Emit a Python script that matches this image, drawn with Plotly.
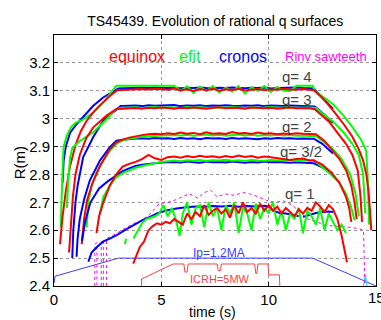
import plotly.graph_objects as go

# ---------------- data ----------------
# shared plateau time samples (s)
PT = [3.2, 3.5, 3.8, 4.1, 4.4, 4.7, 5.0, 5.3, 5.6, 5.9, 6.2, 6.5, 6.8, 7.1, 7.4,
      7.7, 8.0, 8.3, 8.6, 8.9, 9.2, 9.5, 9.8, 10.1, 10.4, 10.7, 11.0, 11.3, 11.6, 11.9]

# ---- q = 4 ----
q4_eq_up_t = [0.28, 0.4, 0.55, 0.75, 1.0, 1.25, 1.5, 1.8, 2.1, 2.4, 2.7, 2.95]
q4_eq_up_R = [2.55, 2.65, 2.74, 2.83, 2.905, 2.955, 2.99, 3.02, 3.045, 3.068, 3.088, 3.102]
q4_eq_pl_R = [3.103, 3.105, 3.104, 3.106, 3.105, 3.107, 3.106, 3.104, 3.108, 3.101, 3.105, 3.099, 3.106, 3.102, 3.107,
              3.1, 3.105, 3.103, 3.107, 3.101, 3.104, 3.106, 3.102, 3.105, 3.104, 3.107, 3.105, 3.104, 3.106, 3.105]
q4_eq_dn_t = [12.1, 12.5, 13.0, 13.5, 13.9, 14.2, 14.4, 14.55, 14.65, 14.72, 14.78]
q4_eq_dn_R = [3.102, 3.075, 3.03, 2.98, 2.935, 2.89, 2.85, 2.8, 2.74, 2.67, 2.6]

q4_ef_up_t = [0.31, 0.34, 0.37, 0.42, 0.45, 0.6, 0.8, 1.0, 1.3, 1.75, 2.3, 2.75, 2.9]
q4_ef_up_R = [2.61, 2.7, 2.78, 2.86, 2.9, 2.94, 2.97, 2.985, 2.995, 3.017, 3.058, 3.1, 3.118]
q4_ef_pl_R = [3.118, 3.118, 3.118, 3.118, 3.118, 3.118, 3.118, 3.118, 3.118, 3.1, 3.116, 3.093, 3.115, 3.099, 3.117,
              3.094, 3.112, 3.097, 3.117, 3.09, 3.113, 3.1, 3.117, 3.096, 3.114, 3.1, 3.099, 3.118, 3.118, 3.118]
q4_ef_dn_t = [12.05, 12.15, 12.6, 13.0, 13.5, 13.9, 14.3, 14.54, 14.62, 14.68]
q4_ef_dn_R = [3.118, 3.1, 3.075, 3.052, 3.01, 2.97, 2.925, 2.886, 2.78, 2.62]

q4_cr_up_t = [0.4, 0.45, 0.55, 0.75, 1.05, 1.36, 1.83, 2.29, 2.84, 3.0]
q4_cr_up_R = [2.77, 2.85, 2.9, 2.95, 2.98, 3.005, 3.046, 3.076, 3.102, 3.108]
q4_cr_pl_R = [3.109, 3.11, 3.11, 3.111, 3.11, 3.112, 3.11, 3.111, 3.11, 3.109, 3.111, 3.11, 3.112, 3.11, 3.109,
              3.111, 3.11, 3.112, 3.11, 3.109, 3.111, 3.11, 3.112, 3.108, 3.11, 3.111, 3.11, 3.112, 3.11, 3.109]
q4_cr_dn_t = [12.1, 12.5, 13.0]
q4_cr_dn_R = [3.108, 3.075, 3.035]

# ---- q = 3 ----
q3_eq_up_t = [0.7, 0.78, 0.88, 1.0, 1.2, 1.5, 1.83, 2.45, 2.91]
q3_eq_up_R = [2.52, 2.62, 2.72, 2.8, 2.87, 2.93, 2.969, 3.011, 3.035]
q3_eq_pl_R = [3.036, 3.037, 3.038, 3.036, 3.039, 3.037, 3.04, 3.038, 3.036, 3.039, 3.037, 3.04, 3.038, 3.036, 3.039,
              3.041, 3.037, 3.039, 3.038, 3.036, 3.04, 3.038, 3.037, 3.039, 3.036, 3.038, 3.04, 3.037, 3.038, 3.037]
q3_eq_dn_t = [12.15, 12.5, 12.84, 13.2, 13.61, 13.9, 14.15, 14.28, 14.35]
q3_eq_dn_R = [3.034, 3.01, 2.987, 2.95, 2.909, 2.87, 2.814, 2.72, 2.63]

q3_ef_up_t = [0.6, 0.66, 0.75, 0.85, 1.2, 1.8, 2.35, 2.9]
q3_ef_up_R = [2.68, 2.78, 2.86, 2.895, 2.92, 2.95, 2.99, 3.035]
q3_ef_pl_R = [3.04, 3.039, 3.041, 3.038, 3.04, 3.042, 3.039, 3.041, 3.04, 3.038, 3.042, 3.039, 3.041, 3.04, 3.038,
              3.041, 3.039, 3.042, 3.04, 3.038, 3.041, 3.039, 3.04, 3.042, 3.039, 3.04, 3.041, 3.039, 3.04, 3.04]
q3_ef_dn_t = [12.2, 12.6, 13.0, 13.5, 13.9, 14.2, 14.4, 14.5]
q3_ef_dn_R = [3.038, 3.012, 2.99, 2.95, 2.91, 2.87, 2.8, 2.66]

q3_cr_up_t = [0.85, 0.9, 1.0, 1.1, 1.36, 1.83, 2.29, 2.91, 3.1]
q3_cr_up_R = [2.5, 2.6, 2.7, 2.76, 2.862, 2.934, 2.993, 3.035, 3.045]
q3_cr_pl_R = [3.045, 3.046, 3.047, 3.045, 3.048, 3.046, 3.047, 3.046, 3.049, 3.045, 3.047, 3.046, 3.048, 3.045, 3.047,
              3.046, 3.048, 3.046, 3.045, 3.047, 3.046, 3.048, 3.045, 3.047, 3.046, 3.045, 3.047, 3.046, 3.045, 3.044]
q3_cr_dn_t = [12.15, 12.5, 13.0]
q3_cr_dn_R = [3.044, 3.02, 2.985]

# ---- q = 2 ----
q2_eq_up_t = [1.29, 1.4, 1.55, 1.8, 2.14, 2.6, 2.91]
q2_eq_up_R = [2.55, 2.64, 2.71, 2.77, 2.83, 2.89, 2.915]
q2_eq_pl_R = [2.925, 2.932, 2.937, 2.941, 2.944, 2.946, 2.944, 2.948, 2.945, 2.95, 2.946, 2.949, 2.944, 2.951, 2.946,
              2.948, 2.945, 2.952, 2.947, 2.949, 2.945, 2.95, 2.946, 2.948, 2.944, 2.947, 2.945, 2.948, 2.946, 2.944]
q2_eq_dn_t = [12.2, 12.6, 13.0, 13.3, 13.61, 13.85, 14.0, 14.1]
q2_eq_dn_R = [2.944, 2.92, 2.885, 2.855, 2.814, 2.76, 2.7, 2.64]

q2_ef_up_t = [1.52, 1.6, 1.75, 2.0, 2.3, 2.6, 2.9]
q2_ef_up_R = [2.61, 2.7, 2.76, 2.81, 2.85, 2.885, 2.91]
q2_ef_pl_R = [2.922, 2.928, 2.932, 2.935, 2.937, 2.938, 2.94, 2.939, 2.941, 2.94, 2.942, 2.939, 2.941, 2.943, 2.94,
              2.942, 2.939, 2.941, 2.943, 2.94, 2.942, 2.939, 2.941, 2.94, 2.942, 2.94, 2.941, 2.939, 2.94, 2.938]
q2_ef_dn_t = [12.2, 12.6, 13.0, 13.4, 13.8, 14.05, 14.2]
q2_ef_dn_R = [2.938, 2.915, 2.89, 2.855, 2.8, 2.73, 2.65]

q2_cr_up_t = [1.05, 1.1, 1.2, 1.4, 1.67, 2.14, 2.6, 2.91]
q2_cr_up_R = [2.505, 2.57, 2.64, 2.71, 2.779, 2.85, 2.898, 2.921]
q2_cr_pl_R = [2.924, 2.927, 2.929, 2.93, 2.928, 2.931, 2.929, 2.93, 2.927, 2.931, 2.928, 2.93, 2.926, 2.931, 2.929,
              2.93, 2.927, 2.931, 2.928, 2.93, 2.929, 2.926, 2.93, 2.928, 2.931, 2.929, 2.93, 2.928, 2.929, 2.927]
q2_cr_dn_t = [12.1, 12.5, 13.0]
q2_cr_dn_R = [2.928, 2.91, 2.875]

# ---- q = 3/2 ----
q32_eq_up_t = [1.98, 2.1, 2.3, 2.6, 2.9]
q32_eq_up_R = [2.59, 2.65, 2.7, 2.76, 2.8]
q32_eq_pl_R = [2.828, 2.838, 2.845, 2.855, 2.87, 2.858, 2.852, 2.862, 2.864, 2.86, 2.866, 2.862, 2.867, 2.863, 2.865,
               2.861, 2.866, 2.862, 2.868, 2.863, 2.866, 2.86, 2.864, 2.862, 2.858, 2.855, 2.852, 2.855, 2.857, 2.85]
q32_eq_dn_t = [12.1, 12.5, 12.9, 13.3, 13.6, 13.75, 13.85]
q32_eq_dn_R = [2.85, 2.835, 2.808, 2.77, 2.72, 2.68, 2.63]

q32_ef_up_t = [2.14, 2.3, 2.6, 2.9]
q32_ef_up_R = [2.66, 2.72, 2.76, 2.79]
q32_ef_pl_R = [2.805, 2.815, 2.824, 2.83, 2.836, 2.84, 2.845, 2.848, 2.85, 2.847, 2.851, 2.849, 2.852, 2.848, 2.851,
               2.85, 2.853, 2.849, 2.851, 2.848, 2.852, 2.85, 2.849, 2.852, 2.85, 2.853, 2.851, 2.849, 2.852, 2.85]
q32_ef_dn_t = [12.1, 12.5, 12.9, 13.3, 13.6, 13.85, 14.0]
q32_ef_dn_R = [2.852, 2.826, 2.8, 2.77, 2.731, 2.68, 2.636]

q32_cr_up_t = [1.3, 1.45, 1.7, 2.1, 2.5, 2.9]
q32_cr_up_R = [2.56, 2.63, 2.7, 2.75, 2.775, 2.795]
q32_cr_pl_R = [2.812, 2.822, 2.83, 2.835, 2.838, 2.841, 2.843, 2.844, 2.845, 2.843, 2.846, 2.844, 2.842, 2.846, 2.844,
               2.845, 2.843, 2.846, 2.844, 2.842, 2.845, 2.843, 2.846, 2.844, 2.845, 2.843, 2.842, 2.844, 2.842, 2.84]
q32_cr_dn_t = [12.1, 12.5, 13.0]
q32_cr_dn_R = [2.84, 2.825, 2.802]

# ---- q = 1 ----
q1_eq_t = [3.69, 3.8, 4.0, 4.2, 4.4, 4.6, 4.8, 5.0, 5.2, 5.4, 5.6, 5.8, 6.0, 6.2, 6.4, 6.6, 6.8, 7.0, 7.2, 7.4,
           7.6, 7.8, 8.0, 8.2, 8.4, 8.6, 8.8, 9.0, 9.2, 9.4, 9.6, 9.8, 10.0, 10.2, 10.4, 10.6, 10.8, 11.0, 11.2,
           11.4, 11.6, 11.8, 12.0, 12.2, 12.4, 12.6, 12.8, 13.0, 13.2, 13.4, 13.55, 13.65]
q1_eq_R = [2.48, 2.5, 2.54, 2.56, 2.6, 2.615, 2.625, 2.62, 2.63, 2.625, 2.64, 2.63, 2.62, 2.66, 2.64, 2.665, 2.65,
           2.69, 2.655, 2.67, 2.68, 2.66, 2.675, 2.645, 2.69, 2.66, 2.7, 2.665, 2.68, 2.66, 2.695, 2.67, 2.69, 2.67,
           2.685, 2.66, 2.68, 2.665, 2.65, 2.675, 2.66, 2.68, 2.67, 2.7, 2.685, 2.665, 2.69, 2.675, 2.64, 2.58,
           2.52, 2.485]

q1_ef_t = [3.3, 3.36, None, 3.7, 3.9, 4.1, 4.3, 4.5, 4.7, 4.9, 5.1, 5.3, 5.5, 5.7, 5.85, 6.0, 6.2, 6.4, 6.6, 6.8,
           7.0, 7.2, 7.4, 7.6, 7.8, 8.0, 8.2, 8.4, 8.6, 8.8, 9.0, 9.2, 9.4, 9.6, 9.8, 10.0, 10.2, 10.4, 10.6, 10.8,
           11.0, 11.2, 11.4, 11.6, 11.8, 12.0, 12.2, 12.4, 12.6, 12.8, 13.0, 13.2, 13.4, 13.6]
q1_ef_R = [2.55, 2.57, None, 2.57, 2.6, 2.625, 2.64, 2.645, 2.65, 2.66, 2.69, 2.65, 2.68, 2.63, 2.58, 2.66, 2.7,
           2.62, 2.68, 2.69, 2.61, 2.7, 2.65, 2.68, 2.6, 2.69, 2.66, 2.7, 2.59, 2.68, 2.66, 2.6, 2.695, 2.64, 2.68,
           2.66, 2.7, 2.62, 2.67, 2.6, 2.66, 2.64, 2.68, 2.59, 2.67, 2.65, 2.62, 2.68, 2.6, 2.66, 2.63, 2.6, 2.62,
           2.59]

q1_cr_t = [1.6, 1.75, 2.0, 2.3, 2.6, 2.92, 3.3, 3.69, 4.1, 4.47, 4.8, 5.24, 5.7, 6.17, 6.6, 7.0, 7.4, 7.8, 8.2,
           8.6, 9.0, 9.4, 9.8, 10.0, 10.2, 10.5, 10.8, 11.13, 11.4, None, 11.6, 11.9, 12.2, 12.5, 12.8, 13.0]
q1_cr_R = [2.487, 2.52, 2.54, 2.56, 2.57, 2.582, 2.6, 2.618, 2.635, 2.648, 2.66, 2.671, 2.678, 2.682, 2.685, 2.684,
           2.687, 2.685, 2.688, 2.684, 2.687, 2.685, 2.688, 2.685, 2.671, 2.662, 2.66, 2.655, 2.65, None, 2.648,
           2.655, 2.662, 2.665, 2.667, 2.665]

# ---- inversion radius from sawteeth ----
rinv_t = [1.9, 1.9, 2.0, 2.0, None, 2.2, 2.2, 2.3, 2.3, None, 2.45, 2.45, 2.9, 3.3, 3.7, 4.0, 4.5, 4.9, 5.3, 5.6,
          6.0, 6.3, 6.7, 7.0, 7.3, 7.6, 8.0, 8.4, 8.8, 9.1, 9.5, 9.9, 10.3, 10.7, 11.1, 11.5, 11.8, 12.2, 12.6,
          13.0, 13.6, 14.2, 14.42, 14.45, 14.48]
rinv_R = [2.4, 2.55, 2.555, 2.4, None, 2.4, 2.56, 2.565, 2.4, None, 2.4, 2.57, 2.588, 2.605, 2.624, 2.63, 2.66,
          2.695, 2.7, 2.707, 2.72, 2.731, 2.715, 2.735, 2.743, 2.72, 2.73, 2.725, 2.735, 2.731, 2.72, 2.707, 2.7,
          2.705, 2.69, 2.66, 2.641, 2.63, 2.62, 2.615, 2.612, 2.606, 2.6, 2.5, 2.4]

# plasma current (scaled onto R axis) and ICRH power (scaled)
ip_t = [0.0, 0.05, 3.0, 12.05, 15.0]
ip_R = [2.41, 2.435, 2.5, 2.5, 2.4]
icrh_t = [4.08, 4.08, 5.55, 6.05, 6.1, 6.2, 6.25, 7.6, 7.65, 7.75, 7.8, 9.35, 9.4, 9.45, 9.5, 9.97, 10.0, 10.5, 10.52]
icrh_R = [2.4, 2.425, 2.479, 2.479, 2.45, 2.45, 2.479, 2.479, 2.455, 2.455, 2.479, 2.479, 2.445, 2.445, 2.479,
          2.479, 2.44, 2.44, 2.4]
cyan_t = [14.42, 14.46, 14.49, 14.52, 14.55, 14.58]
cyan_R = [2.4, 2.43, 2.41, 2.435, 2.415, 2.4]

# labels
q_labels = ["q= 4", "q= 3", "q= 2", "q= 3/2", "q= 1"]
q_label_t = [11.3, 11.3, 11.3, 11.5, 11.45]
q_label_R = [3.152, 3.067, 2.972, 2.882, 2.73]
code_names = ["equinox", "efit", "cronos", "Rinv sawteeth"]
code_t = [3.85, 6.35, 8.8, 12.65]
code_R = [3.222, 3.222, 3.222, 3.222]

y_ticks = [2.4, 2.5, 2.6, 2.7, 2.8, 2.9, 3.0, 3.1, 3.2]
y_tick_text = ["2.4", "2.5", "2.6", "2.7", "2.8", "2.9", "3", "3.1", "3.2"]
x_ticks = [0, 5, 10, 15]

RED, GREEN, BLUE, MAG = "#ff0000", "#00ff00", "#0000ff", "#ff00ff"

fig = go.Figure()


def add(t, R, color, width=2, dash=None):
    fig.add_trace(go.Scatter(x=t, y=R, mode="lines",
                             line=dict(color=color, width=width, dash=dash),
                             hoverinfo="skip", showlegend=False))


# background traces
add(ip_t, ip_R, "#3b3bff", 1)
add(icrh_t, icrh_R, "#ff4040", 1)
add(cyan_t, cyan_R, "#00e5ff", 1)
add(rinv_t, rinv_R, MAG, 1, "dot")

curves = {
    "q4": (q4_cr_up_t, q4_cr_up_R, q4_cr_pl_R, q4_cr_dn_t, q4_cr_dn_R,
           q4_ef_up_t, q4_ef_up_R, q4_ef_pl_R, q4_ef_dn_t, q4_ef_dn_R,
           q4_eq_up_t, q4_eq_up_R, q4_eq_pl_R, q4_eq_dn_t, q4_eq_dn_R),
    "q3": (q3_cr_up_t, q3_cr_up_R, q3_cr_pl_R, q3_cr_dn_t, q3_cr_dn_R,
           q3_ef_up_t, q3_ef_up_R, q3_ef_pl_R, q3_ef_dn_t, q3_ef_dn_R,
           q3_eq_up_t, q3_eq_up_R, q3_eq_pl_R, q3_eq_dn_t, q3_eq_dn_R),
    "q2": (q2_cr_up_t, q2_cr_up_R, q2_cr_pl_R, q2_cr_dn_t, q2_cr_dn_R,
           q2_ef_up_t, q2_ef_up_R, q2_ef_pl_R, q2_ef_dn_t, q2_ef_dn_R,
           q2_eq_up_t, q2_eq_up_R, q2_eq_pl_R, q2_eq_dn_t, q2_eq_dn_R),
    "q32": (q32_cr_up_t, q32_cr_up_R, q32_cr_pl_R, q32_cr_dn_t, q32_cr_dn_R,
            q32_ef_up_t, q32_ef_up_R, q32_ef_pl_R, q32_ef_dn_t, q32_ef_dn_R,
            q32_eq_up_t, q32_eq_up_R, q32_eq_pl_R, q32_eq_dn_t, q32_eq_dn_R),
}
for key, c in curves.items():
    for k, col in zip(range(3), [BLUE, GREEN, RED]):
        ut, uR, pR, dt, dR = c[5 * k:5 * k + 5]
        add(ut + PT + dt, uR + pR + dR, col, 2)

add(q1_cr_t, q1_cr_R, BLUE, 2)
add(q1_ef_t, q1_ef_R, GREEN, 2)
add(q1_eq_t, q1_eq_R, RED, 2)

ann = []
for txt, t, R in zip(q_labels, q_label_t, q_label_R):
    ann.append(dict(x=t, y=R, text=txt, showarrow=False, xref="x", yref="y",
                    font=dict(size=15, color="#444444")))
for txt, t, R, col, sz in zip(code_names, code_t, code_R, [RED, GREEN, BLUE, MAG], [16, 16, 16, 13]):
    ann.append(dict(x=t, y=R, text=txt, showarrow=False, xref="x", yref="y",
                    font=dict(size=sz, color=col)))
ann.append(dict(x=7.7, y=2.52, text="Ip=1.2MA", showarrow=False, xref="x", yref="y",
                font=dict(size=12, color="#3b3bff")))
ann.append(dict(x=7.75, y=2.426, text="ICRH=5MW", showarrow=False, xref="x", yref="y",
                font=dict(size=11, color="#ff4040")))
# last x tick label (partly beyond the window edge, as in the original)
ann.append(dict(x=x_ticks[-1], y=-0.045, xref="x", yref="paper", text=str(x_ticks[-1]), showarrow=False,
                xanchor="center", yanchor="middle", font=dict(size=15, color="black")))
# axis titles (placed explicitly)
ann.append(dict(x=0.493, y=-0.104, xref="paper", yref="paper", text="time (s)", showarrow=False,
                xanchor="center", yanchor="middle", font=dict(size=14, color="black")))
ann.append(dict(x=-0.108, y=0.49, xref="paper", yref="paper", text="R(m)", showarrow=False, textangle=-90,
                xanchor="center", yanchor="middle", font=dict(size=15, color="black")))

axis_common = dict(showline=True, linecolor="black", linewidth=1, mirror="allticks",
                   ticks="inside", ticklen=4, tickcolor="black", automargin=False,
                   showgrid=True, gridcolor="#999999", griddash="dot", gridwidth=1,
                   zeroline=False, tickfont=dict(size=15, color="black"))

fig.update_layout(
    width=381, height=320,
    margin=dict(l=54, r=4.5, t=35, b=34, autoexpand=False),
    paper_bgcolor="white", plot_bgcolor="white",
    font=dict(family="Liberation Sans, Arial, sans-serif", color="black"),
    title=dict(text="TS45439. Evolution of rational q surfaces", x=0.565, xanchor="center",
               y=0.935, yanchor="middle", font=dict(size=14, color="black")),
    xaxis=dict(range=[0, 15], tickvals=x_ticks[:-1], **axis_common),
    yaxis=dict(range=[2.4, 3.3], tickvals=y_ticks, ticktext=y_tick_text, **axis_common),
    annotations=ann,
    showlegend=False,
)

fig.write_html("out.html", config={"displayModeBar": False},
               post_script="document.body.style.margin='0px';document.body.style.overflow='hidden';")
